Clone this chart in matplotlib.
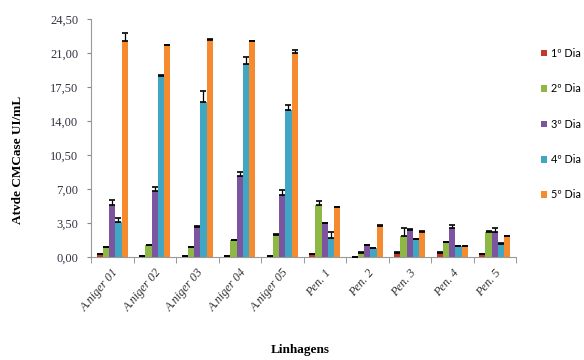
import matplotlib
matplotlib.use("Agg")
import matplotlib.pyplot as plt
import numpy as np

categories = ["A.niger 01", "A.niger 02", "A.niger 03", "A.niger 04", "A.niger 05",
              "Pen. 1", "Pen. 2", "Pen. 3", "Pen. 4", "Pen. 5"]
series_names = ["1º Dia", "2º Dia", "3º Dia", "4º Dia", "5º Dia"]

dia1 = [0.3, 0.1, 0.1, 0.1, 0.1, 0.3, 0.05, 0.45, 0.45, 0.3]
dia2 = [1.0, 1.2, 1.0, 1.75, 2.3, 5.35, 0.45, 2.2, 1.5, 2.6]
dia3 = [5.4, 6.8, 3.1, 8.35, 6.4, 3.5, 1.2, 2.8, 3.0, 2.6]
dia4 = [3.6, 18.6, 16.0, 19.9, 15.1, 2.0, 0.9, 1.85, 1.15, 1.35]
dia5 = [22.2, 21.8, 22.3, 22.2, 21.0, 5.1, 3.2, 2.6, 1.15, 2.15]

err1 = [0.05, 0.02, 0.02, 0.02, 0.02, 0.05, 0.0, 0.02, 0.02, 0.05]
err2 = [0.05, 0.05, 0.05, 0.05, 0.05, 0.4, 0.02, 0.75, 0.05, 0.05]
err3 = [0.5, 0.4, 0.05, 0.4, 0.5, 0.05, 0.05, 0.05, 0.25, 0.35]
err4 = [0.4, 0.1, 1.1, 0.65, 0.5, 0.6, 0.05, 0.05, 0.02, 0.05]
err5 = [0.9, 0.05, 0.1, 0.05, 0.3, 0.05, 0.1, 0.05, 0.02, 0.05]

yticks = [0, 3.5, 7.0, 10.5, 14.0, 17.5, 21.0, 24.5]
ytick_labels = ["0,00", "3,50", "7,00", "10,50", "14,00", "17,50", "21,00", "24,50"]

colors = ["#C0392B", "#8DB843", "#7B559F", "#3FA7C4", "#F58A2E"]

values = [dia1, dia2, dia3, dia4, dia5]
errors = [err1, err2, err3, err4, err5]

fig = plt.figure(figsize=(5.84, 3.60), dpi=100)
ax = fig.add_axes([91/584, 1 - 257/360, (516 - 91)/584, (257 - 19)/360])

n = len(categories)
x = np.arange(n)
bw = 0.146
for i, (vals, errs, c, name) in enumerate(zip(values, errors, colors, series_names)):
    pos = x + (i - 2) * bw
    ax.bar(pos, vals, width=bw, color=c, label=name, zorder=2)
    ax.errorbar(pos, vals, yerr=[np.zeros(n), errs], fmt="none", ecolor="black",
                elinewidth=0.9, capsize=2.2, capthick=1.2, zorder=3)

ax.set_xlim(-0.5, n - 0.5)
ax.set_ylim(0, 24.5)
ax.set_yticks(yticks)
ax.set_yticklabels(ytick_labels, family="Liberation Serif", fontsize=9, color="#333344")
ax.set_xticks(x)
ax.set_xticklabels(categories, rotation=50, ha="right", rotation_mode="anchor",
                   family="Liberation Serif", style="italic", fontsize=8.8, color="#333333")
ax.set_xticks(np.arange(n + 1) - 0.5, minor=True)
ax.tick_params(axis="x", which="major", length=0, pad=7)
ax.tick_params(axis="x", which="minor", length=4, color="#888888", direction="out")
ax.tick_params(axis="y", length=3, color="#888888", direction="out", pad=6)

for s in ["top", "right"]:
    ax.spines[s].set_visible(False)
for s in ["left", "bottom"]:
    ax.spines[s].set_color("#999999")
    ax.spines[s].set_linewidth(0.8)

fig.text(300/584, 1 - 350/360, "Linhagens", ha="center", va="center",
         family="Liberation Serif", fontweight="bold", fontsize=9.5)
fig.text(18/584, 1 - 160/360, "Atvde CMCase UI/mL", ha="center", va="center",
         rotation=90, family="Liberation Serif", fontweight="bold", fontsize=9.5)

leg = fig.legend(loc="upper left", bbox_to_anchor=(541/584, 1 - 48/360), frameon=False,
                 prop={"family": "Lato", "size": 7.8}, handlelength=0.55, handleheight=0.55,
                 handletextpad=0.35, labelspacing=2.25, borderaxespad=0, borderpad=0)

fig.savefig("out.png", dpi=100)
